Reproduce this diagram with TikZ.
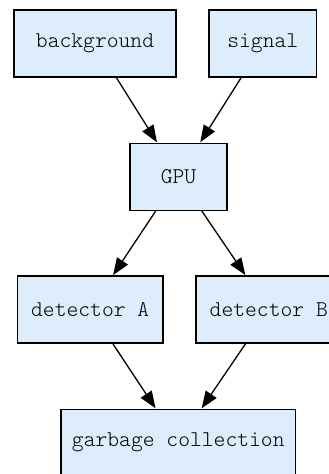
\documentclass[tikz,border=0pt]{standalone}
\usetikzlibrary{arrows.meta}
\definecolor{boxfill}{HTML}{DDEDFB}
\tikzset{
  box/.style={draw=black, line width=1.3pt, fill=boxfill, rectangle, inner sep=0pt,
    font=\ttfamily\fontseries{l}\fontsize{22.5}{25}\selectfont},
  conn/.style={line width=1.3pt, -{Triangle[length=17pt, width=13pt]}, shorten >=0.3pt}
}
\begin{document}
\begin{tikzpicture}[x=1pt,y=1pt]
\useasboundingbox (0,0) rectangle (329,474);
\node[box, minimum width=162pt, minimum height=67pt] (bg) at (95,430.5) {background};
\node[box, minimum width=107.5pt, minimum height=67pt] (sig) at (262.75,430.5) {signal};
\node[box, minimum width=97pt, minimum height=67pt] (gpu) at (178.5,297.3) {GPU};
\node[box, minimum width=145.5pt, minimum height=67pt] (da) at (90.25,164.5) {detector A};
\node[box, minimum width=145.5pt, minimum height=67pt] (db) at (268.75,164.5) {detector B};
\node[box, minimum width=234.7pt, minimum height=67pt] (gc) at (178.3,31.3) {garbage collection};
\draw[conn] (bg) -- (gpu);
\draw[conn] (sig) -- (gpu);
\draw[conn] (gpu) -- (da);
\draw[conn] (gpu) -- (db);
\draw[conn] (da) -- (gc);
\draw[conn] (db) -- (gc);
\end{tikzpicture}
\end{document}
